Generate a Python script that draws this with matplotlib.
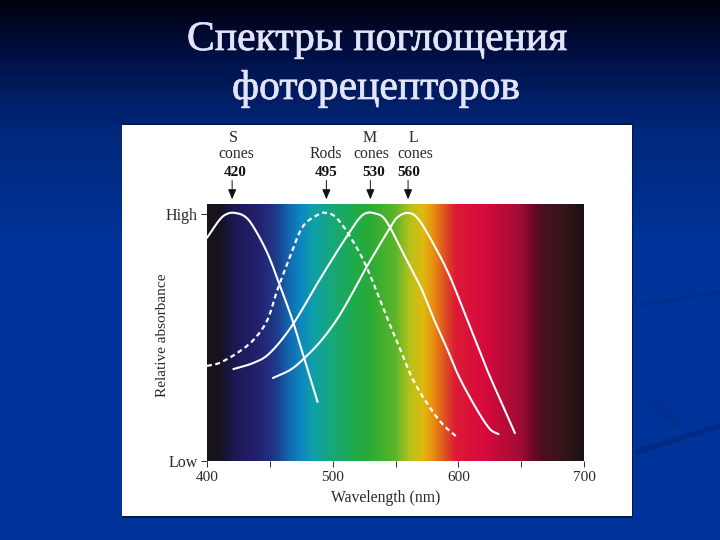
import numpy as np
import matplotlib
matplotlib.use("Agg")
import matplotlib.pyplot as plt
import matplotlib.patheffects as pe
from matplotlib.colors import LinearSegmentedColormap
from matplotlib.patches import Rectangle

title_lines = ["Спектры поглощения", "фоторецепторов"]
x_label = "Wavelength (nm)"
y_label = "Relative absorbance"
x_ticks = [400, 450, 500, 550, 600, 650, 700]
x_tick_labels = ["400", "", "500", "", "600", "", "700"]
y_ticks = [0, 100]
y_tick_labels = ["Low", "High"]

peak_names = ["S", "", "M", "L"]
peak_types = ["cones", "Rods", "cones", "cones"]
peak_nm = [420, 495, 530, 560]

s_x = [400, 410, 416, 422, 430, 437, 448, 458, 468, 476, 488]
s_y = [90.3, 97.6, 100, 100.4, 99, 94.7, 84.2, 71, 57, 43.8, 23.9]
rod_x = [400, 410, 424, 437, 448, 456, 466, 476, 488, 495, 503, 514, 527, 543, 554, 564, 577, 588, 599]
rod_y = [38.5, 39.7, 43.7, 49, 57, 69.2, 82.6, 94.7, 99.6, 100.4, 98.4, 90.7, 78.5, 58.3, 44.9, 32.8, 21.9, 14.6, 9.7]
m_x = [421, 437, 450, 468, 490, 511, 524, 535, 543, 556, 570, 580, 591, 601, 615, 625, 632]
m_y = [37.2, 39.7, 43.7, 55, 73.7, 90.7, 99.6, 100, 96.8, 84.2, 70.4, 58, 45.5, 33.6, 20.6, 13, 10.9]
l_x = [452.5, 466, 476, 490, 503, 514, 527, 546, 552, 560, 568, 580, 593, 608, 623, 631, 645]
l_y = [33.6, 36.8, 40.9, 48.2, 57, 66.4, 78.5, 94.7, 98.8, 100.4, 98, 88, 75, 56, 36.8, 27.5, 11.3]

spectrum_nm = [400, 410, 422, 440, 455, 465, 475, 485, 500, 515, 530, 550, 562, 572, 580, 588, 598, 620, 650, 660, 668, 685, 700]
spectrum_colors = ["#1a1418", "#15121f", "#1c1a55", "#24206e", "#1f3a8a", "#1268b0", "#0e88c0", "#10a0a8",
                   "#17a878", "#1eaa50", "#2aab35", "#5cb52a", "#b8c21a", "#e0b90f", "#e8900f", "#e05a20",
                   "#dc1a35", "#d80a3c", "#a00c35", "#6a0a25", "#4a1020", "#351518", "#1a1010"]

W, H = 720, 540
fig = plt.figure(figsize=(7.2, 5.4), dpi=100)


def px_axes(l, t, r, b, **kw):
    return fig.add_axes([l / W, 1 - b / H, (r - l) / W, (b - t) / H], **kw)


def smooth(xs, ys, n=12):
    """Catmull-Rom rendering of the read points, so the pen stroke has no corners."""
    p = np.column_stack([xs, ys])
    p = np.vstack([2 * p[0] - p[1], p, 2 * p[-1] - p[-2]])
    t = np.linspace(0, 1, n, endpoint=False)[:, None]
    out = []
    for a, b, c, d in zip(p[:-3], p[1:-2], p[2:-1], p[3:]):
        out.append(0.5 * (2 * b + (c - a) * t + (2 * a - 5 * b + 4 * c - d) * t ** 2 + (3 * b - a - 3 * c + d) * t ** 3))
    out.append(p[-2][None, :])
    out = np.vstack(out)
    return out[:, 0], out[:, 1]


# slide background
bg = fig.add_axes([0, 0, 1, 1])
bg.set_axis_off()
stops = [(0, "#00000f"), (0.11, "#00124a"), (0.24, "#00287a"), (0.45, "#003399"), (1, "#003399")]
bg_cmap = LinearSegmentedColormap.from_list("bg", stops)
bg.imshow(np.linspace(0, 1, 540)[:, None], cmap=bg_cmap, aspect="auto", extent=[0, W, H, 0], vmin=0, vmax=1)
bg.set_xlim(0, W)
bg.set_ylim(H, 0)
for xs, ys, lw, c in [([636, 720], [452, 426], 4, "#002b84"), ([640, 720], [305, 292], 3, "#002f90"),
                      ([650, 680], [400, 425], 6, "#002f90")]:
    bg.plot(xs, ys, color=c, lw=lw, solid_capstyle="butt")
bg.add_patch(Rectangle((122, 122.5), 511, 395, facecolor="#001a4a", edgecolor="none"))
bg.add_patch(Rectangle((122, 125), 510, 391, facecolor="white", edgecolor="none"))

for txt, xc, yb in [(title_lines[0], 377, 50), (title_lines[1], 376, 99)]:
    bg.text(xc, yb, txt, color="#e2e5fa", fontsize=30, family="Liberation Serif", ha="center", va="baseline",
            path_effects=[pe.withStroke(linewidth=0.5, foreground="#e2e5fa")])

# chart
ax = px_axes(207, 203.5, 584, 461)
ax.set_facecolor("none")
ax.set_xlim(400, 700)
ax.set_ylim(0, 104.2)
cmap = LinearSegmentedColormap.from_list(
    "spec", [((n - 400) / 300, c) for n, c in zip(spectrum_nm, spectrum_colors)], N=512)
ax.imshow(np.linspace(0, 1, 512)[None, :], cmap=cmap, aspect="auto", extent=[400, 700, 0, 104.2], vmin=0, vmax=1)

ax.plot(*smooth(s_x, s_y), color="white", lw=1.5, solid_capstyle="round")
ax.plot(*smooth(rod_x, rod_y), color="white", lw=1.6, ls=(0, (2.2, 1.6)))
ax.plot(*smooth(m_x, m_y), color="white", lw=1.5, solid_capstyle="round")
ax.plot(*smooth(l_x, l_y), color="white", lw=1.5, solid_capstyle="round")

for s in ax.spines.values():
    s.set_visible(False)
ink = "#2a2a2a"
ax.set_xticks(x_ticks, x_tick_labels, family="Liberation Serif", fontsize=11, color=ink)
ax.set_yticks(y_ticks, y_tick_labels, family="Liberation Serif", fontsize=11.5, color=ink)
ax.tick_params(axis="x", length=4.5, width=0.7, color=ink, pad=3)
ax.tick_params(axis="y", length=4.5, width=0.7, color=ink, pad=2)
ax.set_xlabel(x_label, family="Liberation Serif", fontsize=11.3, color=ink, va="top")
ax.xaxis.set_label_coords(0.475, -0.113)
ax.set_ylabel(y_label, family="Liberation Serif", fontsize=11, color=ink, va="center")
ax.yaxis.set_label_coords(-0.119, 0.489)

trans = ax.get_xaxis_transform()
name_offsets = [1, 0, -1, 5]
type_offsets = [4, -1, 1, 7]
num_offsets = [3, 0, 3, 1]
for i, nm in enumerate(peak_nm):
    ax.annotate("", xy=(nm, 1.0), xycoords=trans, xytext=(0, 23), textcoords="offset pixels",
                arrowprops=dict(arrowstyle="-|>,head_width=0.25,head_length=0.6", color="#111111", lw=0.7,
                                shrinkA=0, shrinkB=3, mutation_scale=10), annotation_clip=False)
    ax.annotate(str(nm), xy=(nm, 1.0), xycoords=trans, xytext=(num_offsets[i], 31),
                textcoords="offset pixels", ha="center", va="center", family="Liberation Serif",
                fontsize=11, fontweight="bold", color="#111111", annotation_clip=False)
    ax.annotate(peak_types[i], xy=(nm, 1.0), xycoords=trans, xytext=(type_offsets[i], 50),
                textcoords="offset pixels", ha="center", va="center", family="Liberation Serif",
                fontsize=11.3, color=ink, annotation_clip=False)
    if peak_names[i]:
        ax.annotate(peak_names[i], xy=(nm, 1.0), xycoords=trans, xytext=(name_offsets[i], 66),
                    textcoords="offset pixels", ha="center", va="center", family="Liberation Serif",
                    fontsize=11.5, color=ink, annotation_clip=False)

fig.savefig("out.png", dpi=100)
